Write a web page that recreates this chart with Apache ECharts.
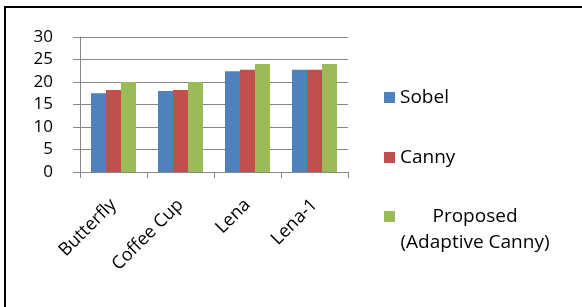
<!DOCTYPE html>
<html>
<head>
<meta charset="utf-8">
<script src="https://cdn.jsdelivr.net/npm/echarts@6/dist/echarts.min.js"></script>
<style>html,body{margin:0;padding:0;background:#fff}#c{width:582px;height:307px}</style>
</head>
<body>
<div id="c"></div>
<script>
const categories = ['Butterfly', 'Coffee Cup', 'Lena', 'Lena-1'];
const sobel = [17.5, 18.0, 22.4, 22.7];
const canny = [18.2, 18.2, 22.7, 22.7];
const proposed = [20.0, 20.0, 24.0, 24.0];
const yTicks = [0, 5, 10, 15, 20, 25, 30];
const names = ['Sobel', 'Canny', 'Proposed (Adaptive Canny)'];

const FONT = 'Open Sans';
const gray = '#868686';
const chart = echarts.init(document.getElementById('c'), null, {renderer: 'canvas'});
const legendBase = {
  orient: 'vertical', left: 384, padding: 0, itemWidth: 11, itemHeight: 11, icon: 'rect',
  textStyle: {fontFamily: FONT, fontSize: 19, color: '#000'},
  itemGap: 0
};
chart.setOption({
  animation: false,
  graphic: [{type: 'rect', shape: {x: 5, y: 7, width: 700, height: 400}, style: {fill: 'none', stroke: '#000', lineWidth: 2}, silent: true}],
  grid: {left: 80, right: 234, top: 37, bottom: 135, containLabel: false},
  legend: [
    Object.assign({}, legendBase, {top: 88, data: [names[0]]}),
    Object.assign({}, legendBase, {top: 148, data: [names[1]]}),
    Object.assign({}, legendBase, {top: 181, data: [names[2]],
      formatter: function () { return '{s| }\n{a|Proposed}\n{a|(Adaptive Canny)}'; },
      textStyle: {fontFamily: FONT, fontSize: 19, color: '#000',
        rich: {s: {fontSize: 19, lineHeight: 26, width: 150}, a: {fontFamily: FONT, fontSize: 19, lineHeight: 26, align: 'center', width: 150}}}
    })
  ],
  xAxis: {
    type: 'category', data: categories,
    axisLine: {lineStyle: {color: gray, width: 1}},
    axisTick: {show: true, length: 6, lineStyle: {color: gray}},
    axisLabel: {rotate: 45, margin: 30, color: '#000', fontFamily: FONT, fontSize: 18}
  },
  yAxis: {
    type: 'value', min: 0, max: 30, interval: 5,
    axisLine: {show: true, lineStyle: {color: gray, width: 1}},
    axisTick: {show: true, length: 7, lineStyle: {color: gray}},
    splitLine: {show: true, lineStyle: {color: gray, width: 1}},
    axisLabel: {margin: 27, color: '#000', fontFamily: FONT, fontSize: 17,
      formatter: function (v) { return yTicks.indexOf(v) >= 0 ? String(v) : ''; }}
  },
  series: [
    {name: names[0], type: 'bar', data: sobel, barWidth: 15, barGap: '0%', itemStyle: {color: '#4F81BD'}},
    {name: names[1], type: 'bar', data: canny, barWidth: 15, barGap: '0%', itemStyle: {color: '#C0504D'}},
    {name: names[2], type: 'bar', data: proposed, barWidth: 15, barGap: '0%', itemStyle: {color: '#9BBB59'}}
  ]
});
</script>
</body>
</html>
